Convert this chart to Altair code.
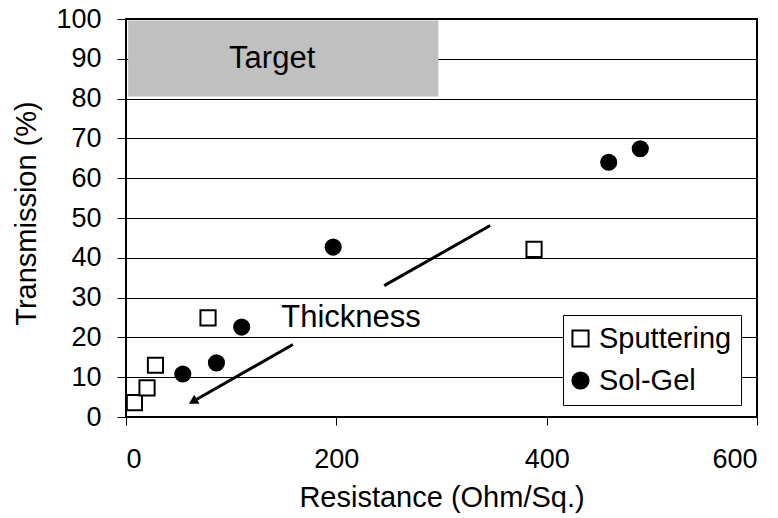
import altair as alt
import pandas as pd

# ---- data ----
series_names = ["Sputtering", "Sol-Gel"]
sput_x = [8, 20, 28, 78, 388]
sput_y = [3.6, 7.3, 13.0, 24.9, 42.1]
sol_x = [54, 86, 110, 197, 459, 489]
sol_y = [10.8, 13.6, 22.6, 42.7, 64.0, 67.4]

x_ticks = [0, 200, 400, 600]
y_ticks = list(range(0, 101, 10))

target_x = [2, 297]
target_y = [80.5, 99.6]
target_label = "Target"
target_label_xy = [139, 90.0]

arrow_from = [158.7, 18.2]
arrow_to = [63.6, 3.9]
trend_from = [245.5, 33.0]
trend_to = [346.3, 48.1]
thickness_label = "Thickness"
thickness_xy = [214, 25.0]

FONT = "Liberation Sans"

pts = pd.DataFrame(
    {
        "x": sput_x + sol_x,
        "y": sput_y + sol_y,
        "method": [series_names[0]] * len(sput_x) + [series_names[1]] * len(sol_x),
    }
)

xs = alt.Scale(domain=[0, 600], nice=False, zero=False)
ys = alt.Scale(domain=[0, 100], nice=False, zero=False)

x_axis = alt.Axis(
    values=x_ticks, grid=False, domain=False, tickSize=8, tickColor="black",
    labelFontSize=27, labelFont=FONT, labelColor="black", labelPadding=21,
    labelOverlap=False,
    title="Resistance (Ohm/Sq.)", titleFontSize=29, titleFont=FONT,
    titleFontWeight="normal", titleColor="black", titleY=89,
    titleBaseline="alphabetic",
)
y_axis = alt.Axis(
    values=y_ticks, grid=True, gridColor="black", gridWidth=1, gridOpacity=1,
    domain=False, tickSize=9, tickColor="black",
    labelFontSize=27, labelFont=FONT, labelColor="black", labelPadding=16,
    labelOverlap=False,
    title="Transmission (%)", titleFontSize=29, titleFont=FONT,
    titleFontWeight="normal", titleColor="black", titleX=-91, titleY=194,
    titleAngle=-90, titleBaseline="alphabetic", titleAlign="center",
)

X = lambda: alt.X("x:Q", scale=xs, axis=x_axis)
Y = lambda: alt.Y("y:Q", scale=ys, axis=y_axis)

points = alt.Chart(pts).mark_point(
    filled=True, strokeWidth=2, size=230, opacity=1
).encode(
    x=X(),
    y=Y(),
    fill=alt.Fill(
        "method:N",
        scale=alt.Scale(domain=series_names, range=["white", "black"]),
        legend=alt.Legend(title=None),
    ),
    stroke=alt.Stroke(
        "method:N",
        scale=alt.Scale(domain=series_names, range=["black", "black"]),
        legend=alt.Legend(title=None),
    ),
    shape=alt.Shape(
        "method:N",
        scale=alt.Scale(domain=series_names, range=["square", "circle"]),
        legend=alt.Legend(title=None),
    ),
)

target_df = pd.DataFrame(
    {"x": [target_x[0]], "x2": [target_x[1]], "y": [target_y[0]], "y2": [target_y[1]]}
)
target_rect = alt.Chart(target_df).mark_rect(color="#C0C0C0").encode(
    x=X(), x2="x2:Q", y=Y(), y2="y2:Q",
)

labels_df = pd.DataFrame(
    {
        "x": [target_label_xy[0], thickness_xy[0]],
        "y": [target_label_xy[1], thickness_xy[1]],
        "t": [target_label, thickness_label],
    }
)
labels = alt.Chart(labels_df).mark_text(
    font=FONT, fontSize=31, color="black", align="center", baseline="middle"
).encode(x=X(), y=Y(), text="t:N")

lines_df = pd.DataFrame(
    {
        "x": [arrow_from[0], trend_from[0]],
        "y": [arrow_from[1], trend_from[1]],
        "x2": [arrow_to[0], trend_to[0]],
        "y2": [arrow_to[1], trend_to[1]],
    }
)
lines = alt.Chart(lines_df).mark_rule(color="black", strokeWidth=3).encode(
    x=X(), y=Y(), x2="x2:Q", y2="y2:Q",
)

head_df = pd.DataFrame({"x": [arrow_to[0]], "y": [arrow_to[1]]})
head = alt.Chart(head_df).mark_point(
    shape="triangle-up", filled=True, color="black", size=110, angle=240, opacity=1
).encode(x=X(), y=Y())

chart = (
    alt.layer(target_rect, lines, head, labels, points)
    .properties(
        width=631,
        height=398,
        autosize=alt.AutoSizeParams(type="none"),
        padding={"left": 118, "top": 11, "right": 13, "bottom": 96},
        background="white",
    )
    .configure_view(stroke="black", strokeWidth=2)
    .configure_legend(
        orient="none",
        legendX=437,
        legendY=296,
        strokeColor="black",
        strokeWidth=1,
        fillColor="white",
        padding=9,
        cornerRadius=0,
        labelFont=FONT,
        labelFontSize=29,
        labelColor="black",
        labelOffset=4,
        symbolOffset=-6,
        symbolSize=260,
        symbolStrokeWidth=2,
        rowPadding=12,
    )
)

chart.save("out.html", embed_options={"renderer": "svg", "actions": False})
